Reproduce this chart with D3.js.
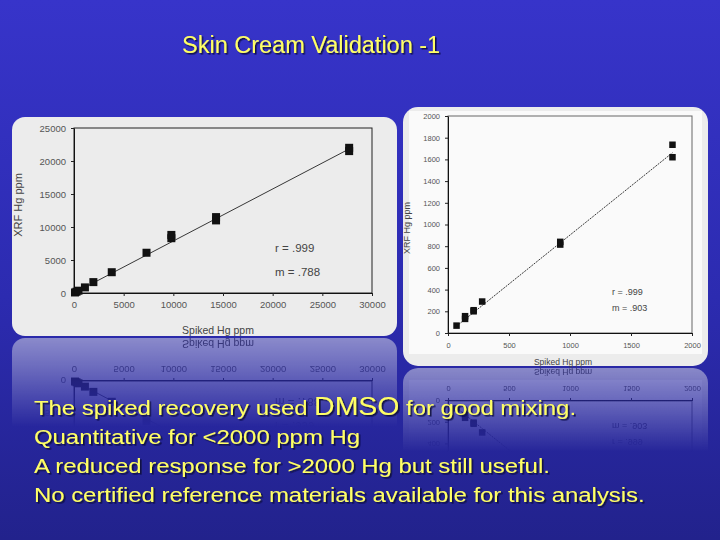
<!DOCTYPE html>
<html>
<head>
<meta charset="utf-8">
<script src="https://cdn.jsdelivr.net/npm/d3@7"></script>
<style>
  body { margin: 0; background: #2a2aa8; }
  svg { display: block; font-family: 'Liberation Sans', Arial, sans-serif; }
</style>
</head>
<body>
<svg width="720" height="540"></svg>
<script>
// slide texts
const titleText = 'Skin Cream Validation -1';
const bulletLines = [
  ['The spiked recovery used ', 'DMSO', ' for good mixing.'],
  ['Quantitative for <2000 ppm Hg'],
  ['A reduced response for >2000 Hg but still useful.'],
  ['No certified reference materials available for this analysis.']
];

// left chart: whole spiked range
const spikedA = [100, 250, 450, 1100, 1950, 3800, 7300, 9800, 9800, 14300, 14300, 27700, 27700];
const xrfA    = [80, 190, 350, 850, 1650, 3150, 6100, 8300, 8800, 11000, 11500, 21500, 22000];
const xTicksA = [0, 5000, 10000, 15000, 20000, 25000, 30000];
const yTicksA = [0, 5000, 10000, 15000, 20000, 25000];
const statsA  = ['r = .999', 'm = .788'];
const slopeA  = 0.788;

// right chart: below 2000 ppm
const spikedB = [70, 140, 140, 210, 210, 280, 920, 920, 1840, 1840];
const xrfB    = [68, 130, 155, 200, 210, 290, 815, 840, 1620, 1735];
const xTicksB = [0, 500, 1000, 1500, 2000];
const yTicksB = [0, 200, 400, 600, 800, 1000, 1200, 1400, 1600, 1800, 2000];
const statsB  = ['r = .999', 'm = .903'];
const slopeB  = 0.903;

const svg = d3.select('svg');
const defs = svg.append('defs');

const bg = defs.append('linearGradient').attr('id', 'bg')
  .attr('x1', 0).attr('y1', 0).attr('x2', 0).attr('y2', 1);
bg.append('stop').attr('offset', 0).attr('stop-color', '#3734ca');
bg.append('stop').attr('offset', 0.55).attr('stop-color', '#2c2bb0');
bg.append('stop').attr('offset', 1).attr('stop-color', '#22228c');

const fade = defs.append('linearGradient').attr('id', 'fade')
  .attr('x1', 0).attr('y1', 0).attr('x2', 0).attr('y2', 1);
fade.append('stop').attr('offset', 0).attr('stop-color', '#fff');
fade.append('stop').attr('offset', 0.35).attr('stop-color', '#aaa');
fade.append('stop').attr('offset', 1).attr('stop-color', '#000');

const shadow = defs.append('filter').attr('id', 'shadow')
  .attr('x', '-5%').attr('y', '-20%').attr('width', '110%').attr('height', '150%');
shadow.append('feDropShadow')
  .attr('dx', 1.5).attr('dy', 1.5).attr('stdDeviation', 0.4)
  .attr('flood-color', '#10103a').attr('flood-opacity', 0.9);

svg.append('rect').attr('width', 720).attr('height', 540).attr('fill', 'url(#bg)');

const drawChart = (id, c) => {
  const g = defs.append('g').attr('id', id);
  g.append('rect')
    .attr('x', c.panel[0]).attr('y', c.panel[1])
    .attr('width', c.panel[2]).attr('height', c.panel[3])
    .attr('rx', c.radius).attr('fill', '#ececec');
  if (c.inner) {
    g.append('rect')
      .attr('x', c.inner[0]).attr('y', c.inner[1])
      .attr('width', c.inner[2]).attr('height', c.inner[3])
      .attr('fill', '#fafafa');
  }

  const x = d3.scaleLinear().domain(c.xDomain).range([c.plot[0], c.plot[1]]);
  const y = d3.scaleLinear().domain(c.yDomain).range([c.plot[2], c.plot[3]]);

  // frame
  g.append('rect')
    .attr('x', c.plot[0]).attr('y', c.plot[3])
    .attr('width', c.plot[1] - c.plot[0]).attr('height', c.plot[2] - c.plot[3])
    .attr('fill', 'none').attr('stroke', c.frame).attr('stroke-width', 1);

  const fmt = d3.format('d');
  const xa = g.append('g').attr('transform', `translate(0,${c.plot[2]})`)
    .call(d3.axisBottom(x).tickValues(c.xTicks).tickFormat(fmt).tickSize(3).tickSizeOuter(0).tickPadding(c.pad));
  const ya = g.append('g').attr('transform', `translate(${c.plot[0]},0)`)
    .call(d3.axisLeft(y).tickValues(c.yTicks).tickFormat(fmt).tickSize(3).tickSizeOuter(0).tickPadding(5));
  [xa, ya].forEach(a => {
    a.select('.domain').attr('stroke', '#111');
    a.selectAll('line').attr('stroke', '#222');
    a.selectAll('text').attr('fill', '#555').attr('font-size', c.tickFont)
      .attr('font-family', "'Liberation Sans', Arial, sans-serif");
  });

  // trend line y = m x
  const x0 = c.lineFromZero ? 0 : d3.min(c.xs);
  const x1 = d3.max(c.xs);
  g.append('line')
    .attr('x1', x(x0)).attr('y1', y(c.slope * x0))
    .attr('x2', x(x1)).attr('y2', y(c.slope * x1))
    .attr('stroke', '#222').attr('stroke-width', 0.9)
    .attr('stroke-dasharray', c.dash);

  g.append('g').selectAll('rect')
    .data(c.xs.map((v, i) => [v, c.ys[i]]))
    .enter()
    .append('rect')
    .attr('x', d => x(d[0]) - c.mark / 2)
    .attr('y', d => y(d[1]) - c.mark / 2)
    .attr('width', c.mark).attr('height', c.mark)
    .attr('fill', '#111');

  c.stats.forEach((s, i) => {
    g.append('text')
      .attr('x', c.statPos[0]).attr('y', c.statPos[1] + i * c.statGap)
      .attr('font-size', c.statFont).attr('fill', '#444')
      .text(s);
  });

  g.append('text')
    .attr('x', c.xTitle[0]).attr('y', c.xTitle[1])
    .attr('text-anchor', 'middle').attr('font-size', c.xTitle[2]).attr('fill', '#444')
    .text('Spiked Hg ppm');
  g.append('text')
    .attr('transform', `translate(${c.yTitle[0]},${c.yTitle[1]}) rotate(-90)`)
    .attr('text-anchor', 'middle').attr('font-size', c.yTitle[2]).attr('fill', '#444')
    .text('XRF Hg ppm');
  return g;
};

drawChart('chartA', {
  panel: [12, 117, 385, 219], radius: 13,
  plot: [74, 372, 293, 128],
  xDomain: [0, 30000], yDomain: [0, 25000],
  xTicks: xTicksA, yTicks: yTicksA,
  xs: spikedA, ys: xrfA, slope: slopeA, lineFromZero: true, dash: null,
  mark: 8, frame: '#222', tickFont: 9.5, pad: 5,
  stats: statsA, statPos: [275, 252], statGap: 24, statFont: 11.5,
  xTitle: [218, 334, 10.5], yTitle: [22, 205, 11]
});

drawChart('chartB', {
  panel: [403, 107, 305, 259], radius: 15,
  inner: [409, 111, 293, 243],
  plot: [448, 692, 333, 116],
  xDomain: [0, 2000], yDomain: [0, 2000],
  xTicks: xTicksB, yTicks: yTicksB,
  xs: spikedB, ys: xrfB, slope: slopeB, lineFromZero: false, dash: '2,1',
  mark: 6.5, frame: '#666', tickFont: 7.5, pad: 7,
  stats: statsB, statPos: [612, 295], statGap: 16, statFont: 9,
  xTitle: [563, 365, 8.5], yTitle: [410, 228, 9]
});

// reflections under the two panels
const reflect = (id, mirrorY, box) => {
  const m = defs.append('mask').attr('id', 'm' + id)
    .attr('maskUnits', 'userSpaceOnUse')
    .attr('x', box[0]).attr('y', mirrorY).attr('width', box[1]).attr('height', box[2]);
  m.append('rect').attr('x', box[0]).attr('y', mirrorY)
    .attr('width', box[1]).attr('height', box[2]).attr('fill', 'url(#fade)');
  svg.append('g').attr('mask', `url(#m${id})`).attr('opacity', 0.5)
    .append('use').attr('href', '#' + id)
    .attr('transform', `translate(0,${2 * mirrorY}) scale(1,-1)`);
};
reflect('chartA', 337, [0, 400, 90]);
reflect('chartB', 367, [400, 320, 85]);

svg.append('use').attr('href', '#chartA');
svg.append('use').attr('href', '#chartB');

// title and bullet text, yellow with a dark drop shadow
const slideText = (xPos, yPos, size, sx) => svg.append('text')
  .attr('transform', `translate(${xPos},0) scale(${sx},1) translate(${-xPos},0)`)
  .attr('x', xPos).attr('y', yPos)
  .attr('font-size', size).attr('fill', '#ffff66')
  .attr('filter', 'url(#shadow)');

slideText(182, 53, 23.5, 1).text(titleText);

bulletLines.forEach((parts, i) => {
  const t = slideText(34, 415 + i * 29, 21, 1.138);
  parts.forEach(p => {
    t.append('tspan').attr('font-size', p === 'DMSO' ? 25 : null).text(p);
  });
});
</script>
</body>
</html>
